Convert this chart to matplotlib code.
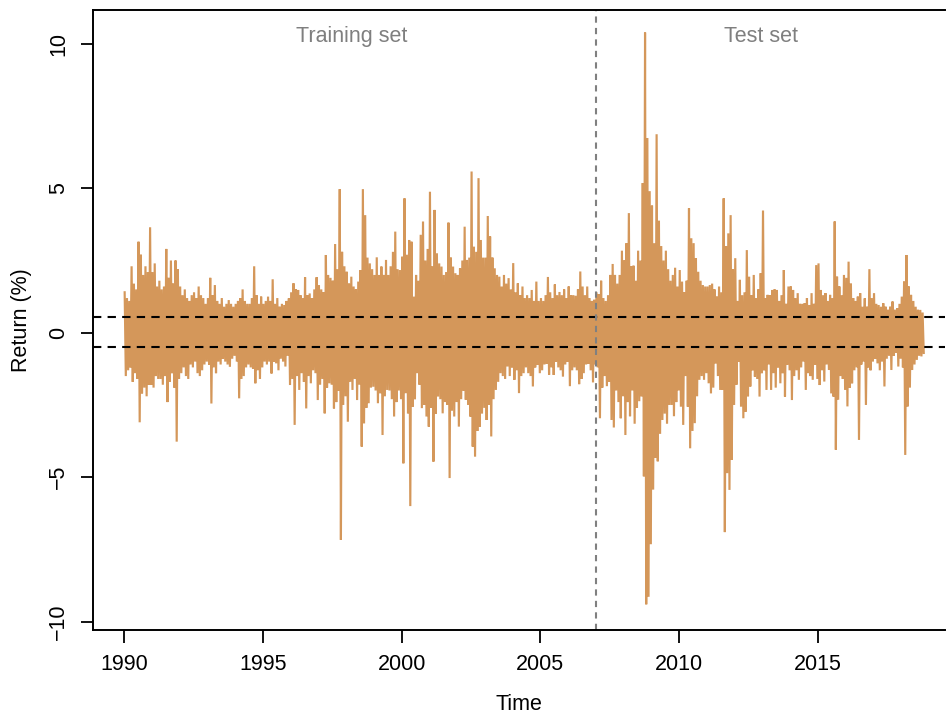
import numpy as np
import matplotlib
matplotlib.use("Agg")
import matplotlib.pyplot as plt

plt.rcParams['font.family'] = ['Liberation Sans', 'DejaVu Sans']

# largest up / down daily return (%) in each month, Jan 1990 .. Oct 2018
monthly_high = [
    1.4, 1.2, 1.1, 2.3, 1.7, 1.5, 3.15, 2.7, 2.0, 2.3, 2.1, 3.65,      # 1990
    2.1, 2.4, 1.6, 1.8, 1.5, 1.6, 2.9, 1.9, 2.5, 1.7, 2.5, 2.2,        # 1991
    1.6, 1.3, 1.5, 1.2, 1.1, 1.3, 1.4, 1.2, 1.6, 1.3, 1.2, 1.0,        # 1992
    1.2, 1.9, 1.3, 1.65, 1.1, 1.0, 1.2, 0.9, 1.0, 1.13, 1.0, 0.9,      # 1993
    1.0, 1.1, 1.2, 1.5, 1.1, 1.0, 1.0, 1.2, 2.3, 1.3, 1.0, 1.25,       # 1994
    1.0, 1.1, 1.25, 1.1, 1.85, 1.0, 1.2, 0.9, 1.0, 0.96, 1.1, 1.19,    # 1995
    1.4, 1.71, 1.5, 1.48, 1.3, 1.2, 1.92, 1.3, 1.36, 1.2, 1.5, 1.92,   # 1996
    1.65, 1.5, 1.4, 2.69, 2.0, 1.9, 1.8, 3.07, 2.2, 4.97, 2.8, 2.3,    # 1997
    2.11, 1.7, 1.94, 1.6, 1.5, 1.77, 2.17, 4.97, 4.07, 2.6, 2.4, 2.2,  # 1998
    2.0, 2.61, 2.0, 2.29, 2.0, 2.52, 2.0, 2.3, 2.8, 3.5, 2.2, 2.17,    # 1999
    2.63, 4.65, 2.7, 3.21, 3.15, 1.25, 2.0, 1.8, 3.39, 3.85, 2.5, 2.9, # 2000
    4.88, 2.29, 4.25, 2.75, 2.4, 2.29, 2.0, 2.1, 3.81, 2.6, 2.29, 2.06,# 2001
    2.0, 2.23, 2.5, 3.67, 2.52, 2.6, 5.58, 2.98, 2.8, 5.35, 3.21, 2.6, # 2002
    2.6, 4.04, 3.33, 2.6, 2.23, 2.0, 1.94, 1.6, 2.0, 1.7, 1.89, 1.5,   # 2003
    2.41, 1.4, 1.71, 1.3, 1.6, 1.2, 1.3, 1.2, 1.48, 1.1, 1.77, 1.1,    # 2004
    1.2, 1.1, 1.3, 1.93, 1.4, 1.2, 1.67, 1.3, 1.41, 1.3, 1.5, 1.2,     # 2005
    1.6, 1.3, 1.3, 1.28, 1.5, 2.12, 1.6, 1.3, 1.6, 1.2, 1.1, 1.14,     # 2006
    1.4, 1.34, 1.8, 1.2, 1.1, 1.3, 2.0, 2.38, 2.0, 1.7, 2.0, 2.84,     # 2007
    2.5, 3.10, 4.14, 2.3, 2.32, 1.8, 2.84, 2.5, 5.18, 10.39, 6.74, 4.9,# 2008
    4.40, 3.10, 6.87, 3.88, 3.0, 2.5, 2.84, 2.2, 1.8, 2.0, 2.25, 1.6,  # 2009
    2.17, 1.77, 1.4, 1.8, 4.31, 3.27, 3.1, 2.58, 2.11, 1.8, 1.65, 1.6, # 2010
    1.6, 1.65, 1.7, 1.5, 1.25, 1.6, 1.4, 4.65, 3.0, 3.44, 4.07, 2.2,   # 2011
    2.58, 1.1, 1.83, 1.3, 1.4, 2.86, 1.94, 1.3, 2.0, 1.2, 1.5, 2.06,   # 2012
    4.23, 1.2, 1.31, 1.3, 1.48, 1.5, 1.48, 1.1, 1.3, 2.17, 1.0, 1.6,   # 2013
    1.6, 1.48, 1.2, 1.37, 1.0, 1.0, 1.02, 1.2, 0.96, 1.37, 1.0, 2.34,  # 2014
    2.40, 1.48, 1.3, 1.37, 1.1, 1.31, 1.2, 3.85, 1.94, 1.6, 1.3, 2.0,  # 2015
    1.9, 2.46, 1.71, 1.2, 1.1, 1.25, 1.37, 0.9, 1.19, 0.9, 2.20, 1.2,  # 2016
    1.37, 1.0, 0.96, 0.9, 1.02, 0.9, 0.8, 0.9, 1.08, 0.8, 0.85, 1.0,   # 2017
    1.25, 1.77, 2.69, 1.6, 1.31, 1.1, 0.9, 0.8, 0.79, 0.7,             # 2018
]
monthly_low = [
    -1.5, -1.3, -1.2, -1.7, -1.4, -1.6, -3.1, -2.1, -1.9, -2.2, -1.8, -1.8,       # 1990
    -1.9, -1.5, -1.6, -1.6, -1.8, -1.5, -2.4, -1.7, -1.4, -1.9, -3.77, -1.6,      # 1991
    -1.4, -1.2, -1.5, -1.6, -1.1, -1.2, -1.0, -1.4, -1.5, -1.3, -1.1, -1.0,       # 1992
    -1.1, -2.45, -1.2, -1.4, -1.0, -1.1, -0.9, -1.0, -1.1, -1.18, -0.9, -0.8,     # 1993
    -1.0, -2.27, -1.6, -1.5, -1.2, -1.1, -1.2, -1.24, -1.75, -1.3, -1.6, -1.2,    # 1994
    -1.0, -1.1, -1.0, -1.41, -1.0, -1.06, -1.3, -0.9, -1.0, -1.17, -0.8, -1.81,   # 1995
    -1.6, -3.19, -1.5, -1.98, -1.4, -1.7, -2.62, -1.5, -1.75, -1.3, -1.4, -2.33,  # 1996
    -1.8, -1.6, -2.79, -1.9, -1.75, -1.8, -2.62, -2.4, -2.0, -7.17, -2.5, -2.2,   # 1997
    -3.08, -1.7, -1.98, -1.6, -2.33, -1.8, -3.94, -3.14, -2.6, -2.44, -1.9, -1.87,# 1998
    -2.0, -2.44, -2.1, -3.54, -2.2, -1.98, -2.0, -2.3, -2.9, -2.4, -2.0, -2.3,    # 1999
    -4.52, -2.09, -2.8, -6.0, -2.56, -2.3, -1.4, -1.8, -2.61, -2.5, -2.9, -3.25,  # 2000
    -2.6, -4.46, -2.8, -2.21, -2.3, -2.79, -2.4, -2.5, -5.03, -2.7, -2.9, -2.4,   # 2001
    -3.25, -2.3, -2.0, -2.32, -2.5, -2.9, -3.94, -4.29, -3.4, -3.25, -2.8, -2.6,  # 2002
    -3.02, -2.5, -3.59, -2.3, -1.98, -1.7, -1.4, -1.5, -1.6, -1.17, -1.5, -1.2,   # 2003
    -1.63, -1.3, -2.09, -1.5, -1.4, -1.2, -1.4, -1.5, -1.86, -1.2, -1.1, -1.4,    # 2004
    -1.3, -1.1, -1.07, -1.46, -1.2, -1.46, -1.0, -1.2, -1.3, -1.52, -1.1, -1.0,   # 2005
    -1.85, -1.3, -1.2, -1.3, -1.78, -1.6, -1.4, -1.1, -1.07, -1.3, -1.72, -1.1,   # 2006
    -1.2, -2.96, -1.9, -1.5, -1.85, -1.7, -3.02, -3.28, -2.0, -2.4, -2.96, -2.2,  # 2007
    -3.54, -2.4, -2.89, -2.0, -3.15, -2.6, -2.37, -2.2, -4.97, -9.40, -9.14, -7.32,# 2008
    -5.43, -4.32, -4.45, -3.5, -3.02, -2.8, -3.15, -2.5, -2.5, -2.89, -2.4, -2.0, # 2009
    -2.56, -3.19, -1.5, -2.56, -4.0, -3.4, -3.13, -2.2, -1.63, -1.5, -1.63, -1.4, # 2010
    -1.75, -2.1, -1.9, -1.07, -1.5, -1.98, -1.98, -6.9, -4.86, -5.44, -4.4, -2.5, # 2011
    -1.8, -1.0, -2.56, -2.96, -2.73, -2.2, -1.86, -1.3, -1.52, -1.6, -2.21, -1.4, # 2012
    -1.3, -1.98, -1.1, -1.98, -1.4, -1.9, -1.2, -1.75, -1.4, -2.21, -1.1, -1.3,   # 2013
    -2.33, -1.5, -1.3, -1.63, -1.2, -1.0, -1.98, -1.4, -1.5, -1.63, -1.1, -1.6,   # 2014
    -1.81, -1.3, -1.69, -1.1, -1.29, -2.1, -2.21, -4.05, -2.32, -1.5, -1.6, -1.98,# 2015
    -2.55, -1.9, -1.75, -1.3, -1.2, -3.71, -1.1, -1.0, -2.5, -1.2, -1.3, -1.0,    # 2016
    -0.9, -1.06, -1.3, -1.0, -1.86, -0.9, -0.8, -1.29, -0.8, -0.7, -1.17, -0.9,   # 2017
    -1.2, -4.23, -2.55, -1.9, -1.29, -1.1, -0.94, -0.8, -0.82, -0.7,             # 2018
]
start_year = 1990
split_year = 2007.0          # end of training set
band = [0.55, -0.5]          # dashed reference levels
x_ticks = [1990, 1995, 2000, 2005, 2010, 2015]
y_ticks = [-10, -5, 0, 5, 10]

# time axis (one slot per month); draw each month as an up/down excursion
t = start_year + np.arange(len(monthly_high)) / 12.0
xs = np.empty(2 * len(t))
ys = np.empty(2 * len(t))
xs[0::2] = t + 0.25 / 12
xs[1::2] = t + 0.75 / 12
ys[0::2] = monthly_high
ys[1::2] = monthly_low

fig = plt.figure(figsize=(9.46, 7.14), dpi=100)
ax = fig.add_axes([0.0983, 0.1176, 0.9007, 0.8684])

ax.plot(xs, ys, color='#D4975A', lw=1.55, solid_joinstyle='miter')
for lev in band:
    ax.axhline(lev, color='black', lw=1.5, ls=(0, (4, 3)))
ax.axvline(split_year, color='#808080', lw=1.5, ls=(0, (3, 2.5)))

ax.text(1998.2, 10.25, 'Training set', color='#7f7f7f', fontsize=15.5, ha='center', va='center')
ax.text(2012.95, 10.25, 'Test set', color='#7f7f7f', fontsize=15.5, ha='center', va='center')

ax.set_xlim(1988.88, 2019.58)
ax.set_ylim(-10.29, 11.17)
ax.set_xticks(x_ticks)
ax.set_yticks(y_ticks)
ax.tick_params(labelsize=15.5, length=9, width=1.3, pad=8)
for lab in ax.get_yticklabels():
    lab.set_rotation(90)
    lab.set_va('center')
ax.spines['right'].set_visible(False)
for s in ['left', 'bottom', 'top']:
    ax.spines[s].set_linewidth(1.4)

ax.set_xlabel('Time', fontsize=15.5, labelpad=14)
ax.set_ylabel('Return (%)', fontsize=15.5, labelpad=12)

fig.savefig('out.png', dpi=100)
